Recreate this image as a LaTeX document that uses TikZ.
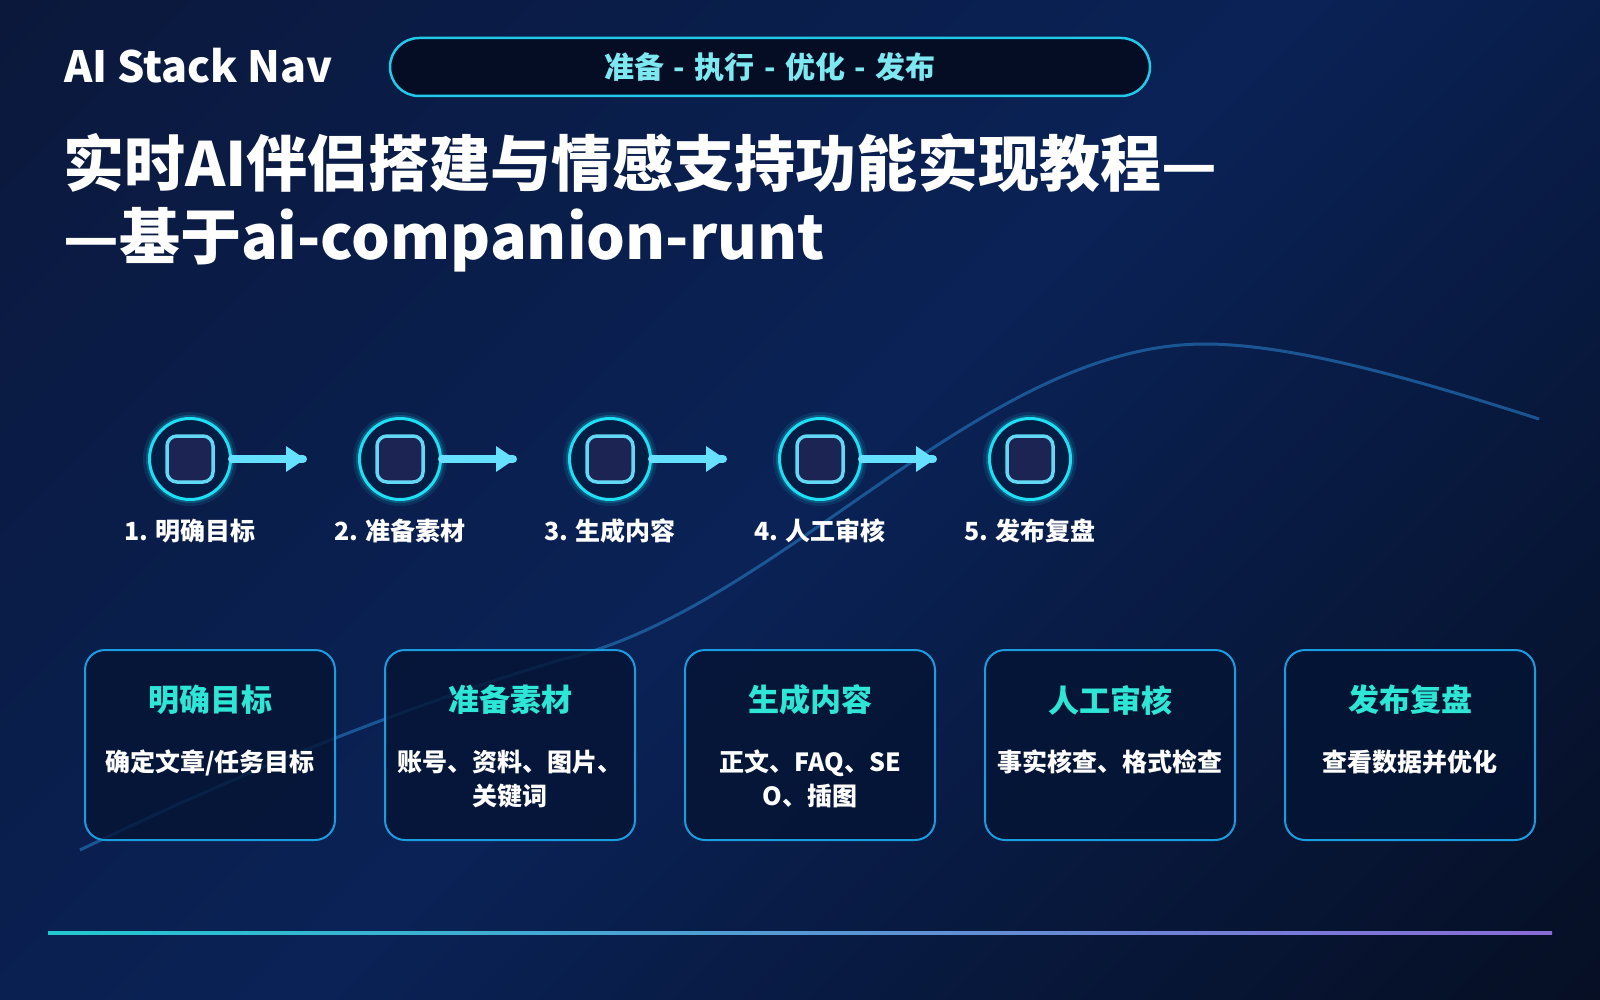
\documentclass[tikz,border=0pt]{standalone}
\usepackage{fontspec}
\setmainfont{Noto Sans CJK SC}
\usetikzlibrary{calc}
\definecolor{bgA}{HTML}{0B1431}
\definecolor{bgB}{HTML}{0A2256}
\definecolor{bgC}{HTML}{04070F}
\definecolor{pillfill}{HTML}{050D24}
\definecolor{pillline}{HTML}{22C8E8}
\definecolor{pilltext}{HTML}{7EE8F0}
\definecolor{ringc}{HTML}{1EE0F5}
\definecolor{circfill}{HTML}{041D44}
\definecolor{sqfill}{HTML}{1C2454}
\definecolor{sqline}{HTML}{62D8F5}
\definecolor{arrowc}{HTML}{66E0FF}
\definecolor{curvec}{HTML}{1D5C9C}
\definecolor{cardb}{HTML}{1A9CE0}
\definecolor{cardf}{HTML}{041434}
\definecolor{cardt}{HTML}{2EE6D6}
\definecolor{lineA}{HTML}{22C8D0}
\definecolor{lineB}{HTML}{8A6AD8}
\pgfdeclarehorizontalshading{bgshade}{100bp}{color(0bp)=(bgA); color(50bp)=(bgB); color(100bp)=(bgC)}
\newcommand{\pdash}{\hspace{9.5pt}-\hspace{9.5pt}}
\tikzset{
  pillbox/.style={rectangle, rounded corners=29pt, minimum width=760pt, minimum height=58pt,
    draw=pillline, line width=2.5pt, fill=pillfill, text=pilltext,
    font=\fontsize{30}{30}\selectfont\bfseries},
  stepcircle/.style={circle, minimum size=81pt, inner sep=0pt, draw=ringc, line width=3pt, fill=circfill},
  stepsq/.style={rectangle, rounded corners=10pt, minimum size=46pt, inner sep=0pt, draw=sqline, line width=3.5pt, fill=sqfill},
  steplabel/.style={text=white, inner sep=0pt, font=\fontsize{25}{25}\selectfont\bfseries},
  arrowline/.style={draw=arrowc, line width=8pt, line cap=round},
  cardbox/.style={rectangle, rounded corners=20pt, minimum width=250pt, minimum height=190pt,
    draw=cardb, line width=2pt, fill=cardf, fill opacity=0.8},
  cardtitle/.style={text=cardt, inner sep=0pt, font=\fontsize{31}{31}\selectfont\bfseries},
  cardbody/.style={text=white, inner sep=0pt, align=center, font=\fontsize{25}{34}\selectfont\bfseries},
  curveline/.style={draw=curvec, line width=3pt, opacity=0.9},
  glow/.style={draw=ringc, opacity=#1}
}
\begin{document}
\begin{tikzpicture}[x=1pt,y=-1pt]
\useasboundingbox (0,0) rectangle (1600,1000);
\shade[shading=bgshade, shading angle=-45] (0,0) rectangle (1600,1000);

% decorative curve
\draw[curveline] (80,850) .. controls (240,773) and (400,708) .. (560,660)
  .. controls (780,610) and (980,344) .. (1205,344)
  .. controls (1300,344) and (1439,387) .. (1539,419);

% header
\node[anchor=base west, inner sep=0pt, text=white, font=\fontsize{43}{43}\selectfont\bfseries] (brand) at (64,83) {AI Stack Nav};
\node[pillbox] (tag) at (770,67) {准备\pdash 执行\pdash 优化\pdash 发布};

% title
\node[anchor=base west, inner sep=0pt, text=white, font=\fontsize{61}{61}\selectfont\bfseries] (title1) at (63,187) {实时AI伴侣搭建与情感支持功能实现教程—};
\node[anchor=base west, inner sep=0pt, text=white, font=\fontsize{61}{61}\selectfont\bfseries] (title2) at (63,260) {—基于ai-companion-runt};

% steps
\foreach \i/\x/\lab in {1/190/明确目标, 2/400/准备素材, 3/610/生成内容, 4/820/人工审核, 5/1030/发布复盘}{
  \draw[glow=0.10, line width=13pt] (\x,459) circle (40.5);
  \draw[glow=0.22, line width=7pt] (\x,459) circle (40.5);
  \node[stepcircle] (s\i) at (\x,459) {};
  \node[stepsq] (q\i) at (\x,459) {};
  \node[steplabel] (l\i) at (\x,531) {\i. \lab};
}
\foreach \i/\x in {1/190, 2/400, 3/610, 4/820}{
  \coordinate (e\i) at (\x+113,459);
  \draw[arrowline] (s\i.east) -- (e\i);
  \fill[arrowc] ($(e\i)+(-17,-13)$) -- ($(e\i)+(2,0)$) -- ($(e\i)+(-17,13)$) -- cycle;
}

% cards
\foreach \i/\x/\ttl/\body in {1/210/明确目标/{确定文章/任务目标}, 2/510/准备素材/{账号、资料、图片、\\关键词}, 3/810/生成内容/{正文、FAQ、SE\\O、插图}, 4/1110/人工审核/{事实核查、格式检查}, 5/1410/发布复盘/{查看数据并优化}}{
  \node[cardbox] (c\i) at (\x,745) {};
  \node[cardtitle] (t\i) at (\x,700) {\ttl};
  \node[cardbody, anchor=north] (b\i) at (\x,750) {\body};
}

% bottom line
\shade[left color=lineA, right color=lineB] (48,931) rectangle (1552,934);
\end{tikzpicture}
\end{document}
